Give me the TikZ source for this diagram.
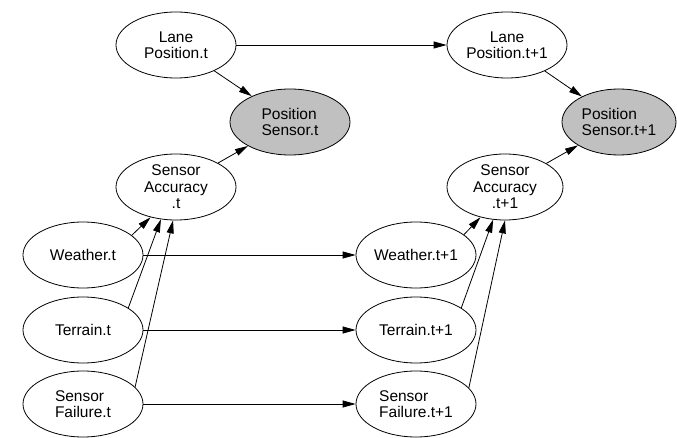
\documentclass[tikz,border=0pt]{standalone}
\usepackage{fontspec}
\setmainfont{Liberation Sans}
\usetikzlibrary{shapes.geometric,arrows.meta}
\definecolor{sensorgray}{RGB}{192,192,192}

\begin{document}
\begin{tikzpicture}[x=1pt,y=-1pt,
    var/.style={ellipse, draw, line width=0.8pt, minimum width=120pt,
      minimum height=66pt, inner sep=0pt, align=center,
      font=\fontsize{15.5}{16.5}\selectfont},
    obs/.style={var, fill=sensorgray},
    link/.style={line width=0.8pt, -{Triangle[length=13pt,width=7pt]}}]

        \useasboundingbox (0,0) rectangle (677,438);

        %Time slice t
        \node [var]             (lane0) at (176,45)  {Lane\\Position.t};
        \node [obs, align=left] (pos0)  at (290,122) {Position\\Sensor.t};
        \node [var]             (acc0)  at (176,187) {Sensor\\Accuracy\\.t};
        \node [var]             (wea0)  at (83,255)  {Weather.t};
        \node [var]             (ter0)  at (83,330)  {Terrain.t};
        \node [var, align=left] (fail0) at (83,404)  {Sensor\\Failure.t};

        %Time slice t+1
        \node [var]             (lane1) at (507,45)  {Lane\\Position.t+1};
        \node [obs, align=left, minimum width=114pt]
                                (pos1)  at (619,122) {Position\\Sensor.t+1};
        \node [var, minimum width=116pt]
                                (acc1)  at (505,187) {Sensor\\Accuracy\\.t+1};
        \node [var]             (wea1)  at (416,255) {Weather.t+1};
        \node [var]             (ter1)  at (416,330) {Terrain.t+1};
        \node [var, align=left] (fail1) at (416,404) {Sensor\\Failure.t+1};

        %Links inside slice t
        \draw [link] (lane0) -- (pos0);
        \draw [link] (acc0) -- (pos0);
        \draw [link] (wea0.22)  -- (acc0.230);
        \draw [link] (ter0.26)  -- (acc0.245);
        \draw [link] (fail0.18) -- (acc0.265);

        %Links inside slice t+1
        \draw [link] (lane1) -- (pos1);
        \draw [link] (acc1) -- (pos1);
        \draw [link] (wea1.23)  -- (acc1.231);
        \draw [link] (ter1.26)  -- (acc1.250);
        \draw [link] (fail1.17) -- (acc1.270);

        %Links from t to t+1
        \draw [link] (lane0) -- (lane1);
        \draw [link] (wea0)  -- (wea1);
        \draw [link] (ter0)  -- (ter1);
        \draw [link] (fail0) -- (fail1);

\end{tikzpicture}
\end{document}
